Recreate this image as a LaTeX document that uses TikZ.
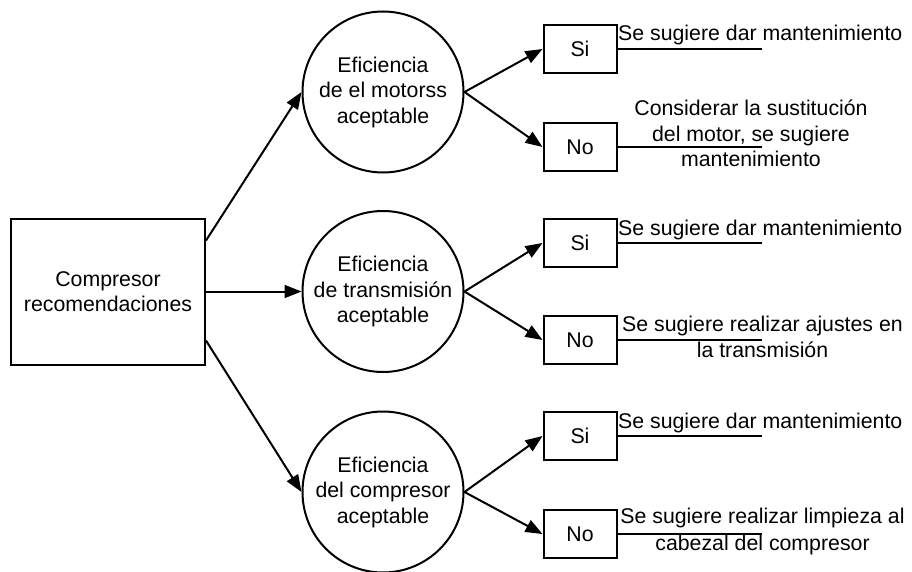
\documentclass[tikz,border=0pt]{standalone}
\usepackage{fontspec}
\setmainfont{Liberation Sans}
\usetikzlibrary{arrows.meta,calc}
\begin{document}
\begin{tikzpicture}[x=1pt,y=-1pt,
  every node/.style={font=\fontsize{21.3}{25.5}\selectfont},
  ln/.style={line width=2pt},
  arr/.style={ln,-{Triangle[length=17pt,width=13pt]}},
  rect/.style={draw,ln,inner sep=0pt},
  circ/.style={draw,ln,circle,minimum size=161pt,inner sep=0pt,align=center},
  lbl/.style={align=center,inner sep=0pt},
  sl/.style={anchor=base west,inner sep=0pt}
]
\useasboundingbox (0,0) rectangle (912,572);
\node[rect,minimum width=194pt,minimum height=146pt,align=center] (main) at (108,291.5) {Compresor\\recomendaciones};
\node[circ] (c1) at (383,92) {Eficiencia\\de el motorss\\aceptable};
\node[circ] (c2) at (383,291.5) {Eficiencia\\de transmisión\\aceptable};
\node[circ] (c3) at (383,492) {Eficiencia\\del compresor\\aceptable};
\draw[arr] ([yshift=51pt]main.east) -- (c1.west);
\draw[arr] (main.east) -- (c2.west);
\draw[arr] ([yshift=-49pt]main.east) -- (c3.west);
\foreach \n/\sy/\ny in {1/49/147,2/243/340,3/436/534}{
  \node[rect,minimum width=73pt,minimum height=48pt] (s\n) at (580,\sy) {Si};
  \node[rect,minimum width=73pt,minimum height=48pt] (n\n) at (580,\ny) {No};
  \draw[arr] (c\n.east) -- (s\n.west);
  \draw[arr] (c\n.east) -- (n\n.west);
}
\coordinate (r) at (762,0);
\foreach \n in {1,2,3}{
  \draw[ln] (s\n.east) -- (s\n.east -| r);
  \draw[ln] (n\n.east) -- (n\n.east -| r);
}
\node[sl] (t1) at (618,41) {Se sugiere dar mantenimiento};
\node[sl] (t2) at (618,235) {Se sugiere dar mantenimiento};
\node[sl] (t3) at (618,428) {Se sugiere dar mantenimiento};
\node[lbl,anchor=base] (u1) at (751,167) {Considerar la sustitución\\del motor, se sugiere\\mantenimiento};
\node[lbl,anchor=base] (u2) at (762.5,357) {Se sugiere realizar ajustes en\\la transmisión};
\node[lbl,anchor=base,font=\fontsize{21.3}{27}\selectfont] (u3) at (762.5,550) {Se sugiere realizar limpieza al\\cabezal del compresor};
\end{tikzpicture}
\end{document}
